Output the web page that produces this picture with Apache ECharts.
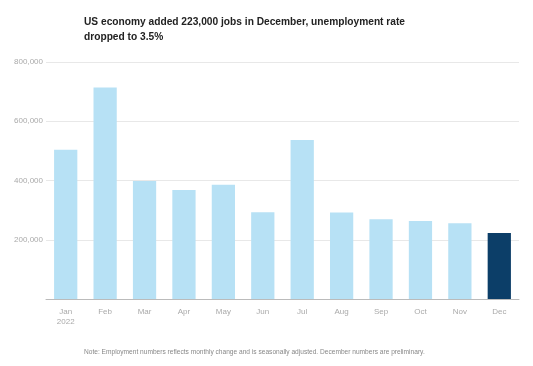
<!DOCTYPE html>
<html><head><meta charset="utf-8">
<script src="https://cdn.jsdelivr.net/npm/echarts@6/dist/echarts.min.js"></script>
<style>html,body{margin:0;padding:0;background:#fff}#c{width:533px;height:366px}</style>
</head><body><div id="c"></div>
<script>
const categories = ['Jan\n2022','Feb','Mar','Apr','May','Jun','Jul','Aug','Sep','Oct','Nov','Dec'];
const jobs = [504000, 714000, 398000, 368000, 386000, 293000, 537000, 292000, 269000, 263000, 256000, 223000];
const yTicks = [0, 200000, 400000, 600000, 800000];
const chart = echarts.init(document.getElementById('c'));
chart.setOption({
  animation:false,
  backgroundColor:'#fff',
  title:[{
    text:'US economy added 223,000 jobs in December, unemployment rate\ndropped to 3.5%',
    left:84, top:15, padding:0,
    textStyle:{fontFamily:'Liberation Sans',fontSize:10.2,fontWeight:'bold',color:'#222',lineHeight:15}
  },{
    text:'Note: Employment numbers reflects monthly change and is seasonally adjusted. December numbers are preliminary.',
    left:84, top:349, padding:0,
    textStyle:{fontFamily:'Liberation Sans',fontSize:6.6,fontWeight:'normal',color:'#888'}
  }],
  grid:{left:46,right:14,top:62,bottom:67},
  xAxis:{type:'category',data:categories,
    axisLine:{lineStyle:{color:'#bbb'}},
    axisTick:{alignWithLabel:true,length:4,lineStyle:{color:'#bbb'}},
    axisLabel:{color:'#aaa',fontSize:8,fontFamily:'Liberation Sans',margin:8,lineHeight:10}},
  yAxis:{type:'value',min:0,max:800000,interval:200000,
    axisLine:{show:false},axisTick:{show:false},
    splitLine:{lineStyle:{color:'#e8e8e8'}},
    axisLabel:{color:'#aaa',fontSize:8,fontFamily:'Liberation Sans',margin:3,
      formatter:v=> v===0?'':v.toLocaleString('en-US')}},
  series:[{type:'bar',barWidth:'59%',
    data:jobs.map((v,i)=>({value:v,itemStyle:{color:i===jobs.length-1?'#0c3e68':'#b7e1f5'}}))}]
});
</script></body></html>
